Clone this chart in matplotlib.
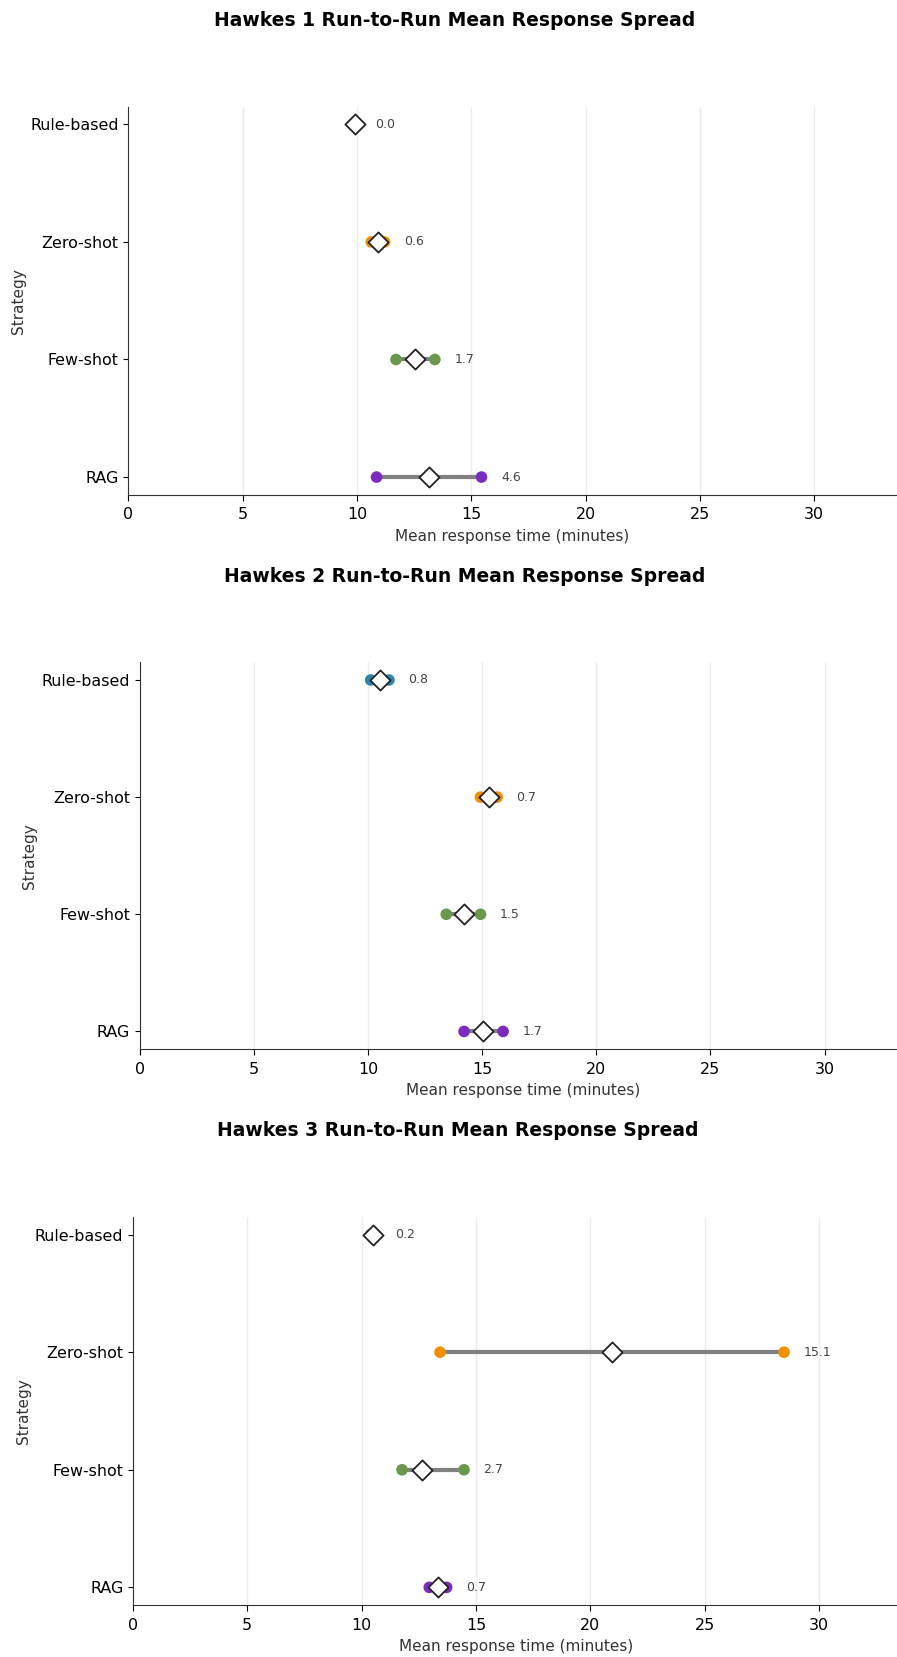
import numpy as np
import matplotlib
matplotlib.use("Agg")
import matplotlib.pyplot as plt

# ---- data ----
strategies = ["Rule-based", "Zero-shot", "Few-shot", "RAG"]
colors = ["#2E86AB", "#F18F01", "#6A994E", "#7B2CBF"]

titles = ["Hawkes 1 Run-to-Run Mean Response Spread",
          "Hawkes 2 Run-to-Run Mean Response Spread",
          "Hawkes 3 Run-to-Run Mean Response Spread"]

h1_min = [9.93, 10.63, 11.71, 10.86]
h1_max = [9.93, 11.21, 13.41, 15.45]
h1_mean = [9.93, 10.91, 12.56, 13.16]

h2_min = [10.12, 14.93, 13.43, 14.21]
h2_max = [10.92, 15.66, 14.93, 15.92]
h2_mean = [10.51, 15.30, 14.19, 15.06]

h3_min = [10.40, 13.43, 11.77, 12.96]
h3_max = [10.60, 28.48, 14.48, 13.72]
h3_mean = [10.50, 20.96, 12.65, 13.34]

spread_labels = [[0.0, 0.6, 1.7, 4.6],
                 [0.8, 0.7, 1.5, 1.7],
                 [0.2, 15.1, 2.7, 0.7]]

XMAX = 33.56

W, H = 897, 1657
fig = plt.figure(figsize=(W / 100, H / 100), dpi=100)

# axes rectangles in pixels: left, top, right, bottom ; title centre (x, y)
rects = [(128.3, 106.7, 895.5, 494.7),
         (139.7, 662.4, 905.8, 1049.0),
         (133.0, 1217.0, 900.2, 1605.0)]
title_pos = [(455, 20), (465, 576), (458, 1130)]

panels = [(h1_min, h1_max, h1_mean),
          (h2_min, h2_max, h2_mean),
          (h3_min, h3_max, h3_mean)]

for k, ((lo, hi, mu), (l, t, r, b)) in enumerate(zip(panels, rects)):
    ax = fig.add_axes([l / W, 1 - b / H, (r - l) / W, (b - t) / H])
    ypos = np.arange(len(strategies))
    for i in range(len(strategies)):
        ax.plot([lo[i], hi[i]], [ypos[i], ypos[i]], color="#808080", lw=3, zorder=1,
                solid_capstyle="butt")
        ax.scatter([lo[i], hi[i]], [ypos[i], ypos[i]], color=colors[i], s=70, zorder=2,
                   edgecolors="none")
        ax.scatter([mu[i]], [ypos[i]], marker="D", s=105, facecolor="white",
                   edgecolor="#222222", linewidths=1.3, zorder=3)
        ax.text(hi[i] + 0.85, ypos[i], f"{spread_labels[k][i]:.1f}", va="center",
                ha="left", fontsize=9, color="#444444")
    ax.set_yticks(ypos)
    ax.set_yticklabels(strategies, fontsize=11.4)
    ax.set_ylim(3.15, -0.15)
    ax.set_xlim(0, XMAX)
    ax.set_xticks([0, 5, 10, 15, 20, 25, 30])
    ax.tick_params(axis="x", labelsize=11.4, length=4.5, pad=4.5)
    ax.tick_params(axis="y", length=3.5, pad=3.5)
    ax.grid(axis="x", color="#ececec", lw=1)
    ax.set_axisbelow(True)
    for s in ("top", "right"):
        ax.spines[s].set_visible(False)
    for s in ("left", "bottom"):
        ax.spines[s].set_color("#333333")
    ax.set_xlabel("Mean response time (minutes)", fontsize=11, color="#333333", labelpad=5)
    ax.set_ylabel("Strategy", fontsize=11, color="#333333", labelpad=3)
    tx, ty = title_pos[k]
    fig.text(tx / W, 1 - ty / H, titles[k], ha="center", va="center",
             fontsize=13.5, fontweight="bold")

fig.savefig("out.png", dpi=100)
